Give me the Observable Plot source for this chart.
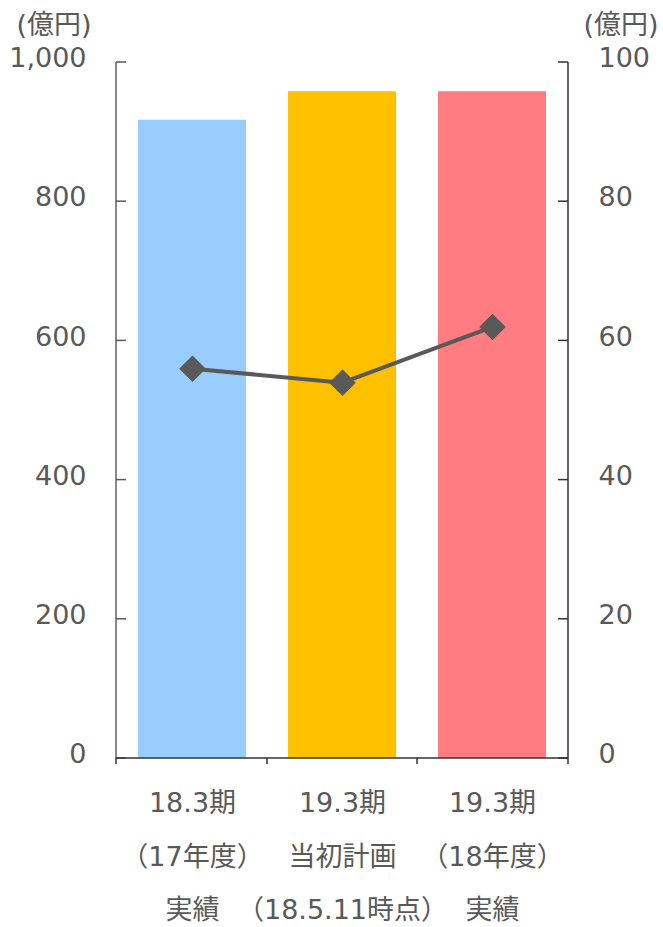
<!DOCTYPE html>
<html><head><meta charset="utf-8">
<script src="https://cdn.jsdelivr.net/npm/d3@7"></script>
<script src="https://cdn.jsdelivr.net/npm/@observablehq/plot@0.6"></script>
<style>
html,body{margin:0;padding:0;background:#fff}
#chart svg{display:block}
</style>
</head><body><div id="chart"></div>
<script>
const categories = ["18.3期\n（17年度）\n実績", "19.3期\n当初計画\n（18.5.11時点）", "19.3期\n（18年度）\n実績"];
const sales = [917, 958, 958];
const profit = [56, 54, 62];
const barColors = ["#99CCFF", "#FFC000", "#FF7C80"];
const leftTicks = [0, 200, 400, 600, 800, 1000];
const rightTicks = [0, 20, 40, 60, 80, 100];
const unitLabel = "(億円)";
const rightRatio = 10; // left scale units per right-axis unit

const data = categories.map((c, i) => ({cat: c, sales: sales[i], profit: profit[i]}));

const textColor = "#595959";
const font = '"DejaVu Sans","Noto Sans CJK JP",sans-serif';

function axisLines(index, scales, values, dimensions) {
  const {x, y} = scales;
  const xl = dimensions.marginLeft;
  const xr = dimensions.width - dimensions.marginRight;
  const y0 = y(0), yt = y(leftTicks[leftTicks.length - 1]);
  const g = d3.create("svg:g").attr("fill", "none");
  g.append("line").attr("x1", xl).attr("x2", xl).attr("y1", yt).attr("y2", y0)
    .attr("stroke", "#898989").attr("stroke-width", 2);
  for (const t of leftTicks) {
    g.append("line").attr("x1", xl).attr("x2", xl + 10).attr("y1", y(t)).attr("y2", y(t))
      .attr("stroke", "#595959").attr("stroke-width", 1.5);
  }
  g.append("line").attr("x1", xr).attr("x2", xr).attr("y1", yt).attr("y2", y0)
    .attr("stroke", "#333").attr("stroke-width", 1.5);
  for (const t of rightTicks) {
    g.append("line").attr("x1", xr - 10).attr("x2", xr).attr("y1", y(t * rightRatio)).attr("y2", y(t * rightRatio))
      .attr("stroke", "#333").attr("stroke-width", 1.5);
  }
  g.append("line").attr("x1", xl).attr("x2", xr).attr("y1", y0).attr("y2", y0)
    .attr("stroke", "#333").attr("stroke-width", 1.5);
  const step = x.step(), bw = x.bandwidth();
  const bounds = [xl, ...categories.slice(1).map(c => x(c) - (step - bw) / 2), xr];
  for (const b of bounds) {
    g.append("line").attr("x1", b).attr("x2", b).attr("y1", y0).attr("y2", y0 + 6)
      .attr("stroke", "#333").attr("stroke-width", 1.5);
  }
  return g.node();
}

const chart = Plot.plot({
  width: 663,
  height: 927,
  marginTop: 62,
  marginLeft: 116,
  marginRight: 95,
  marginBottom: 169,
  style: {fontFamily: font, fontSize: "27px", color: textColor, background: "#fff", overflow: "visible"},
  x: {domain: categories, paddingInner: 0.283, paddingOuter: 0.1415},
  y: {domain: [0, 1000]},
  color: {domain: categories, range: barColors},
  marks: [
    Plot.barY(data, {x: "cat", y: "sales", fill: "cat"}),
    axisLines,
    Plot.axisY({anchor: "left", ticks: leftTicks, tickFormat: d3.format(","), tickSize: 0, tickPadding: 30, dy: -4, fill: textColor, fontSize: 27, label: null}),
    Plot.axisY({anchor: "right", ticks: rightTicks.map(v => v * rightRatio), tickFormat: d => d / rightRatio, tickSize: 0, tickPadding: 30, dy: -4, fill: textColor, fontSize: 27, label: null}),
    Plot.axisX({anchor: "bottom", tickSize: 0, tickPadding: 16, lineHeight: 1.98, fill: textColor, fontSize: 27, label: null}),
    Plot.text([unitLabel], {frameAnchor: "top-left", text: d => d, textAnchor: "start", dx: -100, dy: -48, fill: textColor, fontSize: 27}),
    Plot.text([unitLabel], {frameAnchor: "top-right", text: d => d, textAnchor: "start", dx: 15, dy: -48, fill: textColor, fontSize: 27}),
    Plot.line(data, {x: "cat", y: d => d.profit * rightRatio, stroke: "#595959", strokeWidth: 4}),
    Plot.dot(data, {x: "cat", y: d => d.profit * rightRatio, symbol: "diamond2", r: 12, fill: "#595959", stroke: "none"})
  ]
});
document.getElementById("chart").append(chart);
</script>
</body></html>
